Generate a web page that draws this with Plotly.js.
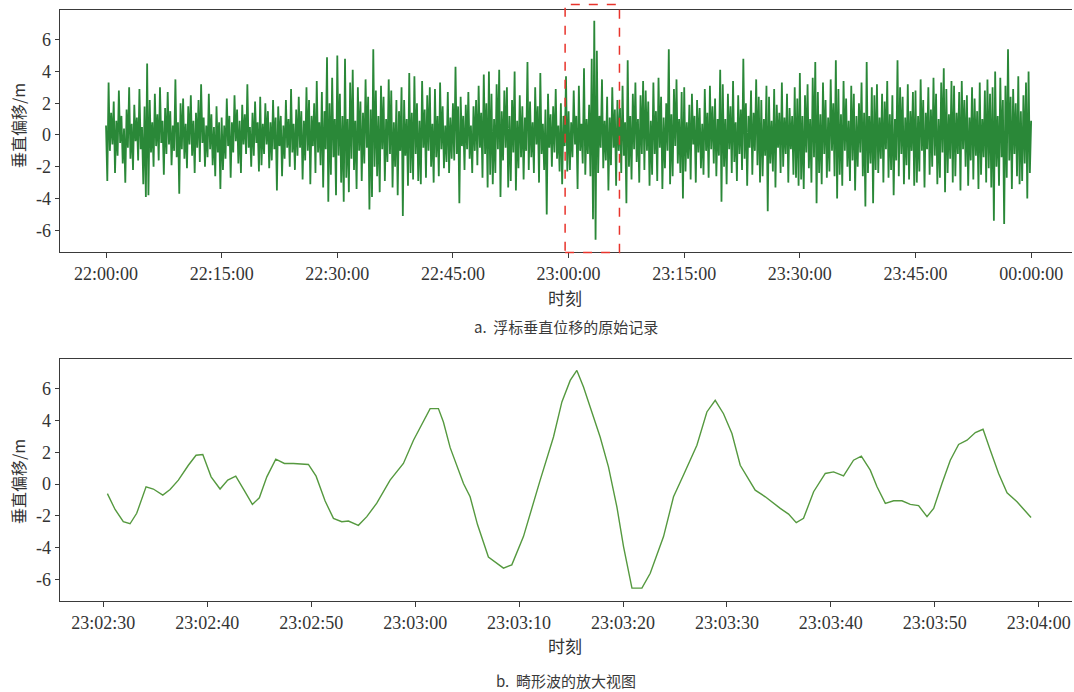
<!DOCTYPE html>
<html>
<head>
<meta charset="utf-8">
<script src="https://cdn.plot.ly/plotly-3.0.1.min.js"></script>
<style>
html,body{margin:0;padding:0;background:#fff;}
#chart{width:1074px;height:692px;}
</style>
</head>
<body>
<div id="chart"></div>
<script>
// ---------- Data ----------
// (a) raw buoy vertical displacement record, 22:00:00 - 00:00:00, one value every 10 s (estimated from the figure)
const rawStart = '22:00:00';
const rawStepSeconds = 10;
const rawDisplacement = [
  0.6,-2.9,3.3,-1.0,1.4,-0.6,2.1,-2.4,0.9,-1.3,2.8,-0.5,1.2,-1.8,0.4,-3.0,1.6,-0.8,3.0,-1.5,0.7,-2.2,1.9,-0.4,1.1,-1.6,2.9,-0.9,0.5,-3.1,
  1.8,-3.9,4.5,-3.8,2.2,-1.1,0.8,-2.0,2.6,-0.7,1.3,-1.6,3.0,-0.5,0.9,-2.5,1.7,-1.2,2.7,-0.6,1.5,-1.9,0.6,-1.0,3.5,-1.4,0.8,-3.7,2.0,-0.9,
  2.3,-1.5,0.7,-2.1,1.8,-0.6,2.5,-1.3,0.9,-2.4,1.4,-0.8,2.2,-1.7,3.2,-0.5,1.1,-2.0,0.6,-1.4,2.6,-0.9,1.3,-1.9,0.5,-2.6,1.8,-1.1,0.8,-3.4,
  1.1,-2.2,0.6,-1.5,2.3,-0.7,1.2,-2.7,0.8,-1.1,2.5,-0.4,1.6,-1.8,0.9,-2.4,1.9,-0.6,1.3,-1.2,3.2,-0.8,0.5,-2.0,1.4,-1.3,2.1,-0.5,0.8,-2.3,
  2.4,-1.9,0.7,-1.2,2.0,-0.6,1.5,-2.1,0.8,-1.6,2.2,-0.9,1.1,-3.5,1.8,-0.7,1.2,-2.6,0.6,-1.5,2.2,-0.8,1.0,-2.0,2.9,-1.1,0.7,-2.2,1.6,-1.3,
  2.4,-0.8,1.5,-2.8,0.9,-1.6,3.0,-1.0,2.2,-3.1,1.2,-0.7,2.0,-2.4,3.4,-1.1,0.8,-1.9,2.7,-3.3,1.5,-0.9,4.9,-4.2,2.0,-2.5,3.6,-1.4,1.0,-3.8,
  5.0,-1.3,2.6,-3.0,1.2,-4.2,4.8,-2.7,1.0,-3.6,3.3,-1.5,4.1,-2.2,0.9,-3.4,3.0,-1.0,2.1,-2.9,1.4,-1.8,3.5,-0.8,2.4,-4.7,1.6,-3.9,5.4,-2.0,
  2.8,-2.6,1.2,-3.6,3.1,-0.9,2.4,-2.9,1.0,-1.7,3.5,-1.2,2.8,-3.3,0.8,-2.0,2.2,-3.8,1.5,-1.0,3.0,-5.1,2.2,-1.3,1.0,-3.2,3.9,-2.4,1.4,-2.8,
  3.7,-1.2,2.0,-2.9,0.9,-3.1,3.4,-0.8,1.6,-2.7,2.5,-1.0,3.0,-2.0,0.7,-3.0,2.9,-1.4,1.2,-2.6,3.3,-0.9,1.8,-2.1,0.6,-1.7,2.7,-2.4,1.1,-1.5,
  2.0,-1.6,4.3,-1.2,1.8,-4.3,2.4,-0.7,1.2,-2.2,1.9,-0.9,2.7,-1.5,0.6,-2.4,1.8,-1.0,2.2,-1.9,3.1,-0.8,1.4,-2.7,3.8,-1.2,2.0,-3.3,4.0,-2.5,
  2.6,-3.1,1.0,-2.4,3.2,-0.9,4.1,-3.9,1.5,-1.6,2.8,-0.8,3.0,-3.3,1.2,-2.9,2.2,-1.1,4.0,-3.5,0.9,-2.1,2.5,-1.4,1.8,-2.8,1.1,-1.0,4.6,-2.2,
  2.1,-1.4,0.8,-2.4,3.0,-0.6,1.8,-3.0,3.9,-1.2,0.7,-2.2,1.6,-5.0,2.6,-0.8,1.3,-2.0,1.8,-1.1,2.9,-1.5,0.6,-2.3,2.0,-3.1,1.2,-0.7,3.7,-2.3,
  1.5,-2.2,0.8,-1.4,2.8,-0.6,1.2,-3.4,3.1,-1.0,0.7,-1.8,4.2,-2.5,1.0,-1.2,1.9,-2.6,4.8,-5.3,7.2,-6.6,5.3,-2.4,1.2,-0.8,3.5,-2.1,0.9,-1.6,
  2.4,-3.5,1.1,-1.9,3.0,-0.8,1.6,-3.2,2.2,-1.0,1.7,-2.4,3.1,-1.3,0.8,-4.3,4.7,-2.0,1.2,-2.8,2.6,-0.9,3.3,-1.7,1.0,-3.0,2.5,-1.2,3.4,-2.2,
  2.8,-1.0,2.1,-3.2,0.9,-2.5,3.3,-1.2,1.5,-2.9,3.6,-0.8,2.4,-3.4,1.1,-2.1,2.0,-1.0,5.4,-3.1,1.3,-2.6,2.9,-0.7,3.5,-1.8,1.0,-2.4,2.7,-4.0,
  3.0,-2.3,0.8,-1.5,1.9,-2.8,2.6,-0.6,1.2,-3.0,2.2,-1.1,1.7,-2.1,0.7,-2.5,2.9,-1.0,1.4,-2.7,3.1,-0.9,1.8,-1.8,2.3,-2.6,1.0,-1.3,4.1,-4.2,
  3.2,-2.0,1.0,-3.1,2.6,-0.9,1.8,-2.4,3.4,-1.7,0.8,-2.9,2.5,-1.2,1.6,-2.2,4.8,-1.5,2.0,-3.2,1.2,-0.8,2.8,-2.5,1.4,-1.0,3.5,-1.9,2.4,-3.0,
  2.2,-2.6,1.0,-1.3,3.1,-4.8,2.4,-1.8,0.9,-2.3,2.9,-3.3,1.9,-0.8,1.4,-2.4,3.3,-2.0,1.1,-1.2,2.6,-3.0,1.7,-0.9,1.2,-2.5,3.0,-2.7,2.3,-3.2,
  3.9,-2.8,1.2,-3.4,2.5,-1.1,3.2,-2.1,1.0,-3.0,3.6,-1.4,4.6,-4.3,2.7,-2.4,1.3,-3.1,3.3,-1.2,2.2,-2.7,1.1,-2.3,3.5,-1.0,2.0,-2.6,4.7,-4.0,
  2.9,-2.5,1.3,-3.2,3.4,-1.0,2.3,-2.0,0.9,-2.9,3.1,-1.6,2.6,-3.5,1.2,-2.0,2.0,-1.1,3.3,-2.6,1.4,-4.5,4.6,-2.4,1.2,-1.8,3.0,-4.3,2.5,-2.2,
  3.2,-2.4,1.1,-1.5,2.6,-3.0,2.1,-0.9,3.4,-2.7,1.3,-2.2,2.5,-3.8,1.0,-1.6,4.7,-2.6,3.0,-1.2,2.4,-3.1,1.1,-1.9,3.2,-2.8,1.5,-1.0,2.7,-3.2,
  2.8,-3.0,1.2,-2.3,3.5,-1.0,2.2,-3.3,1.4,-0.9,3.0,-2.5,1.6,-2.0,3.6,-1.3,2.6,-3.1,1.0,-2.7,3.3,-1.1,4.2,-3.6,2.9,-2.4,1.3,-1.5,3.4,-3.0,
  3.1,-2.6,1.4,-1.2,2.7,-3.5,3.4,-0.9,2.2,-2.0,2.5,-3.2,1.1,-1.6,3.0,-2.8,2.3,-1.3,1.5,-3.4,3.3,-2.5,1.0,-1.4,2.8,-3.0,3.5,-2.1,2.6,-3.3,
  3.0,-5.4,4.0,-2.0,1.2,-3.2,3.6,-1.4,2.2,-5.6,3.1,-2.7,5.4,-1.6,2.4,-3.4,2.9,-1.2,2.0,-2.6,3.7,-3.1,1.5,-2.9,2.5,-1.8,3.3,-4.0,4.0,-2.4,
  0.9
];

// (b) zoomed view of the freak wave, seconds after 23:02:30 and displacement (m)
const zoomStart = '23:02:30';
const zoomSeconds = [
  0.39,1.13,1.92,2.57,3.21,4.11,4.81,5.72,6.42,7.22,8.18,8.92,9.57,10.37,11.23,11.97,12.74,13.54,14.34,15.01,
  15.73,16.59,17.42,18.29,19.73,20.47,21.34,22.14,22.94,23.58,24.54,25.35,26.31,27.59,28.87,29.84,31.44,32.24,32.72,33.37,
  34.65,35.29,36.00,37.05,38.50,39.30,40.42,42.03,43.31,44.12,44.92,45.56,46.20,47.16,47.80,48.60,49.41,50.05,50.86,51.82,
  52.62,53.90,54.86,55.82,57.11,58.07,58.87,59.67,60.48,61.28,62.72,63.69,65.13,65.93,66.67,67.37,68.34,69.46,70.26,71.22,
  72.18,72.93,73.79,74.44,75.24,76.04,76.84,77.64,78.44,79.25,79.89,80.69,81.49,82.29,83.10,83.90,84.64,85.34,86.14,86.95,
  87.91,88.55,89.26
];
const zoomDisplacement = [
  -0.6,-1.6,-2.37,-2.5,-1.84,-0.17,-0.31,-0.69,-0.34,0.25,1.19,1.82,1.87,0.46,-0.31,0.25,0.5,-0.38,-1.28,-0.86,
  0.46,1.57,1.3,1.3,1.24,0.5,-1.07,-2.16,-2.37,-2.33,-2.6,-2.05,-1.2,0.25,1.3,2.77,4.76,4.76,3.92,2.3,
  0.04,-0.8,-2.55,-4.6,-5.3,-5.09,-3.31,0.25,2.97,5.18,6.54,7.17,6.12,4.23,2.97,1.09,-1.43,-3.94,-6.56,-6.56,
  -5.62,-3.31,-0.8,0.57,2.45,4.55,5.28,4.44,3.19,1.19,-0.38,-0.8,-1.53,-1.89,-2.43,-2.16,-0.48,0.67,0.77,0.52,
  1.51,1.76,0.88,-0.17,-1.21,-1.05,-1.05,-1.28,-1.36,-2.05,-1.53,0.04,1.51,2.5,2.77,3.25,3.46,2.14,0.67,-0.55,
  -1.11,-1.59,-2.1
];

const yTickValues = [-6,-4,-2,0,2,4,6];
const yTickLabels = ['-6','-4','-2','0','2','4','6'];
const yTitle = '垂直偏移/m';
const xTitle = '时刻';
const captionA = 'a.\u00a0\u00a0浮标垂直位移的原始记录';
const captionB = 'b.\u00a0\u00a0畸形波的放大视图';

// ---------- helpers ----------
function hmsToMs(day, hms){
  const p = hms.split(':').map(Number);
  return Date.UTC(2024,0,day,p[0],p[1],p[2]);
}
const rawBase = hmsToMs(1, rawStart);
const zoomBase = hmsToMs(1, zoomStart);
const rawX = rawDisplacement.map((_, i) => rawBase + i*rawStepSeconds*1000);
const zoomX = zoomSeconds.map(s => zoomBase + s*1000);

const W = 1074, H = 692;
const px = v => v / W;
const py = v => 1 - v / H;

const serif = '"Liberation Serif","Times New Roman","Noto Sans CJK SC",serif';
const cjk = '"Noto Sans CJK SC","Liberation Serif",serif';
const axisColor = '#3a3a3a';
const textColor = '#333333';

const traces = [
  {x: rawX, y: rawDisplacement, type:'scatter', mode:'lines', xaxis:'x', yaxis:'y',
   line:{color:'#2a8838', width:1.8, simplify:false}, hoverinfo:'skip'},
  {x: zoomX, y: zoomDisplacement, type:'scatter', mode:'lines', xaxis:'x2', yaxis:'y2',
   line:{color:'#55993f', width:1.4, simplify:false}, hoverinfo:'skip'}
];

function xAxis(range, tick0, dtick, anchor){
  return {
    type:'date', domain:[px(60), px(1072)], range: range, anchor: anchor,
    tickmode:'linear', tick0: tick0, dtick: dtick, tickformat:'%H:%M:%S',
    showgrid:false, zeroline:false, showline:true, linecolor:axisColor, linewidth:1.3,
    mirror:true, ticks:'outside', ticklen:5, tickcolor:axisColor, tickwidth:1,
    tickfont:{family:serif, size:18, color:textColor}, automargin:false
  };
}
function yAxis(domainPx, anchor){
  return {
    domain:[py(domainPx[1]), py(domainPx[0])], anchor: anchor,
    range:[-7.37, 7.87], tickmode:'array', tickvals:yTickValues, ticktext:yTickLabels,
    showgrid:false, zeroline:false, showline:true, linecolor:axisColor, linewidth:1.3,
    ticks:'outside', ticklen:4, tickcolor:axisColor, tickwidth:1,
    tickfont:{family:serif, size:18, color:textColor}, automargin:false
  };
}

const boxStart = rawBase + 59.55*60000;
const boxEnd = rawBase + 66.6*60000;

const layout = {
  width: W, height: H,
  margin:{l:0, r:0, t:0, b:0},
  paper_bgcolor:'#ffffff', plot_bgcolor:'#ffffff',
  showlegend:false,
  xaxis: xAxis([rawBase - 5.97*60000, rawBase + 125.3*60000], rawBase, 15*60*1000, 'y'),
  yaxis: yAxis([10, 252], 'x'),
  xaxis2: xAxis([zoomBase - 4.17*1000, zoomBase + 93.2*1000], zoomBase, 10*1000, 'y2'),
  yaxis2: yAxis([359.3, 601], 'x2'),
  shapes:[
    {type:'rect', xref:'x', yref:'paper', x0: boxStart, x1: boxEnd, y0: py(252.5), y1: py(4.5),
     line:{color:'#e8342c', width:1.5, dash:'dash'}, fillcolor:'rgba(0,0,0,0)', layer:'above'}
  ],
  annotations:[
    {text: yTitle, xref:'paper', yref:'paper', x: px(18), y: py(126), textangle:-90,
     showarrow:false, xanchor:'center', yanchor:'middle', font:{family:cjk, size:16, color:textColor}},
    {text: yTitle, xref:'paper', yref:'paper', x: px(18), y: py(482), textangle:-90,
     showarrow:false, xanchor:'center', yanchor:'middle', font:{family:cjk, size:16, color:textColor}},
    {text: xTitle, xref:'paper', yref:'paper', x: px(565), y: py(297),
     showarrow:false, xanchor:'center', yanchor:'middle', font:{family:cjk, size:17, color:textColor}},
    {text: xTitle, xref:'paper', yref:'paper', x: px(565), y: py(645),
     showarrow:false, xanchor:'center', yanchor:'middle', font:{family:cjk, size:17, color:textColor}},
    {text: captionA, xref:'paper', yref:'paper', x: px(566), y: py(326),
     showarrow:false, xanchor:'center', yanchor:'middle', font:{family:cjk, size:15, color:'#3a3a3a'}},
    {text: captionB, xref:'paper', yref:'paper', x: px(566), y: py(680),
     showarrow:false, xanchor:'center', yanchor:'middle', font:{family:cjk, size:15, color:'#3a3a3a'}}
  ]
};

Plotly.newPlot('chart', traces, layout, {staticPlot:true, displayModeBar:false});
</script>
</body>
</html>
